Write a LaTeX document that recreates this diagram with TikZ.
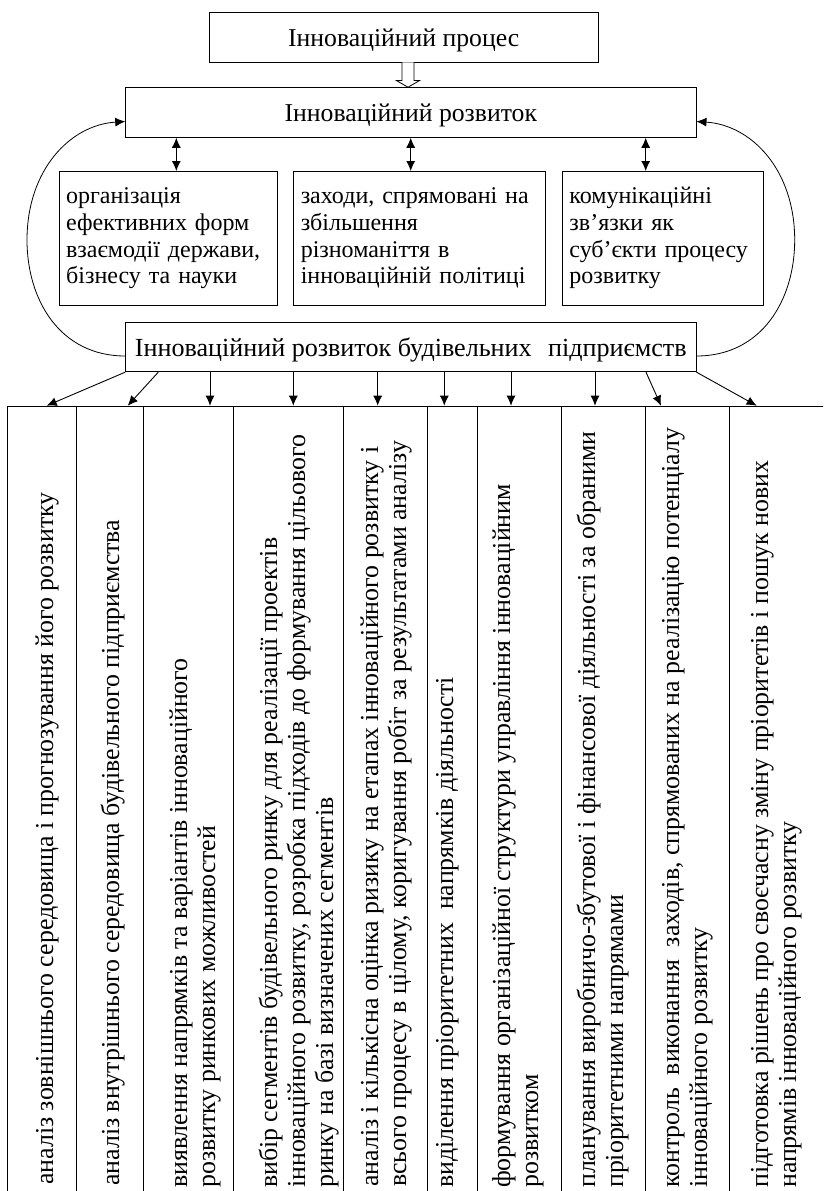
\documentclass[tikz,border=0pt]{standalone}
\usepackage{fontspec}
\setmainfont{Liberation Serif}
\usetikzlibrary{arrows.meta,calc}
\begin{document}
\begin{tikzpicture}[x=1pt,y=-1pt,
  every node/.style={font=\fontsize{25.7}{28}\selectfont},
  box/.style={draw, line width=0.9pt, inner sep=0pt},
  hbox/.style={box, text height=20pt, text depth=2pt},
  sbox/.style={box, font=\fontsize{24}{26.7}\selectfont, align=left, text width=#1, inner xsep=7pt, minimum height=134pt, anchor=north west},
  cell/.style={draw, line width=0.9pt, inner sep=0pt, minimum height=820pt, anchor=north west},
  vtext/.style={rotate=90, anchor=north west, align=left, inner sep=0pt, font=\fontsize{25.85}{28}\selectfont},
  tip/.style={-{Latex[length=10pt,width=9pt]}, line width=0.9pt},
  dbl/.style={{Latex[length=10pt,width=9pt]}-{Latex[length=10pt,width=9pt]}, line width=0.9pt},
  curve/.style={-{Latex[length=10pt,width=9pt]}, line width=0.8pt}
]
\useasboundingbox (0,0) rectangle (823,1191);
\clip (0,0) rectangle (823,1191);

% top boxes
\node[hbox, minimum width=388.7pt, minimum height=50pt] (A) at (403.7,37) {Інноваційний процес};
\node[hbox, minimum width=570.3pt, minimum height=49.6pt] (B) at (410.85,112.5) {Інноваційний розвиток};
\node[hbox, minimum width=570.3pt, minimum height=49.4pt, font=\fontsize{26.1}{28}\selectfont] (C) at (410.85,347) {Інноваційний розвиток будівельних\hspace{16.5pt}підприємств};

% middle boxes
\node[sbox=204pt] (m1) at (58.7,171) {\strut організація\\ефективних форм\\взаємодії держави,\\бізнесу та науки\strut};
\node[sbox=237.3pt] (m2) at (293.3,171) {\strut заходи, спрямовані на\\збільшення\\різноманіття в\\інноваційній політиці\strut};
\node[sbox=186.7pt] (m3) at (562,171) {\strut комунікаційні\\зв’язки як\\суб’єкти процесу\\розвитку\strut};

% hollow arrow A -> B
\coordinate (h) at (408,0);
\draw[line width=0.8pt, fill=white]
  ($(A.south -| h)+(-6,0)$) -- ($(A.south -| h)+(-6,18)$) -- ($(A.south -| h)+(-11.7,18)$)
  -- (B.north -| h) -- ($(A.south -| h)+(11.7,18)$) -- ($(A.south -| h)+(6,18)$)
  -- ($(A.south -| h)+(6,0)$);

% double arrows
\coordinate (u1) at (176.3,0);
\coordinate (u2) at (410.7,0);
\coordinate (u3) at (645.7,0);
\draw[dbl] (B.south -| u1) -- (m1.north -| u1);
\draw[dbl] (B.south -| u2) -- (m2.north -| u2);
\draw[dbl] (B.south -| u3) -- (m3.north -| u3);

% feedback curves
\draw[curve] ($(C.west)+(0,9)$) .. controls (60,356) and (27,300) .. (27,240)
  .. controls (27,170) and (70,125) .. ($(B.west)+(0,9)$);
\draw[curve] ($(C.east)+(0,9)$) .. controls (761.7,356) and (794.7,300) .. (794.7,240)
  .. controls (794.7,170) and (751.7,125) .. ($(B.east)+(0,9)$);

% table columns
\node[cell, minimum width=68.7pt] (t1) at (7.3,405.7) {};
\node[cell, minimum width=66.7pt] (t2) at (76,405.7) {};
\node[cell, minimum width=90.6pt] (t3) at (142.7,405.7) {};
\node[cell, minimum width=110pt] (t4) at (233.3,405.7) {};
\node[cell, minimum width=83.4pt] (t5) at (343.3,405.7) {};
\node[cell, minimum width=50.6pt] (t6) at (426.7,405.7) {};
\node[cell, minimum width=84pt] (t7) at (477.3,405.7) {};
\node[cell, minimum width=84pt] (t8) at (561.3,405.7) {};
\node[cell, minimum width=84pt] (t9) at (645.3,405.7) {};
\node[cell, minimum width=120pt] (t10) at (729.3,405.7) {};

% column texts
\node[vtext] (v1) at (33.4,1185) {\strut аналіз зовнішнього середовища і прогнозування його розвитку};
\node[vtext] (v2) at (99.4,1186) {\strut аналіз внутрішнього середовища будівельного підприємства};
\node[vtext] (v3) at (167.4,1188) {\strut виявлення напрямків та варіантів інноваційного\\розвитку ринкових можливостей};
\node[vtext] (v4) at (257.4,1188) {\strut вибір сегментів будівельного ринку для реалізації проектів\\інноваційного розвитку, розробка підходів до формування цільового\\ринку на базі визначених сегментів};
\node[vtext] (v5) at (358.4,1187) {\strut аналіз і кількісна оцінка ризику на етапах інноваційного розвитку і\\всього процесу в цілому, коригування робіт за результатами аналізу};
\node[vtext] (v6) at (433.4,1188) {\strut виділення пріоритетних~ напрямків діяльності};
\node[vtext] (v7) at (490.4,1188) {\strut формування організаційної структури управління інноваційним\\розвитком};
\node[vtext] (v8) at (575.4,1188) {\strut планування виробничо-збутової і фінансової діяльності за обраними\\пріоритетними напрямами};
\node[vtext] (v9) at (659.4,1188) {\strut контроль~ виконання~ заходів, спрямованих на реалізацію потенціалу\\інноваційного розвитку};
\node[vtext] (v10) at (748.4,1188) {\strut підготовка рішень про своєчасну зміну пріоритетів і пошук нових\\напрямів інноваційного розвитку};

% arrows from C to the table
\coordinate (a2) at (158.3,0);
\coordinate (a3) at (210,0);
\coordinate (a4) at (293.3,0);
\coordinate (a5) at (377.7,0);
\coordinate (a6) at (444.3,0);
\coordinate (a7) at (511,0);
\coordinate (a8) at (595,0);
\coordinate (a9) at (646,0);
\coordinate (b1) at (46.7,0);
\coordinate (b2) at (127.7,0);
\coordinate (b9) at (661,0);
\coordinate (b10) at (756.7,0);
\draw[tip] (C.south west) -- (t1.north -| b1);
\draw[tip] (C.south -| a2) -- (t2.north -| b2);
\draw[tip] (C.south -| a3) -- (t3.north -| a3);
\draw[tip] (C.south -| a4) -- (t4.north -| a4);
\draw[tip] (C.south -| a5) -- (t5.north -| a5);
\draw[tip] (C.south -| a6) -- (t6.north -| a6);
\draw[tip] (C.south -| a7) -- (t7.north -| a7);
\draw[tip] (C.south -| a8) -- (t8.north -| a8);
\draw[tip] (C.south -| a9) -- (t9.north -| b9);
\draw[tip] (C.south east) -- (t10.north -| b10);
\end{tikzpicture}
\end{document}
